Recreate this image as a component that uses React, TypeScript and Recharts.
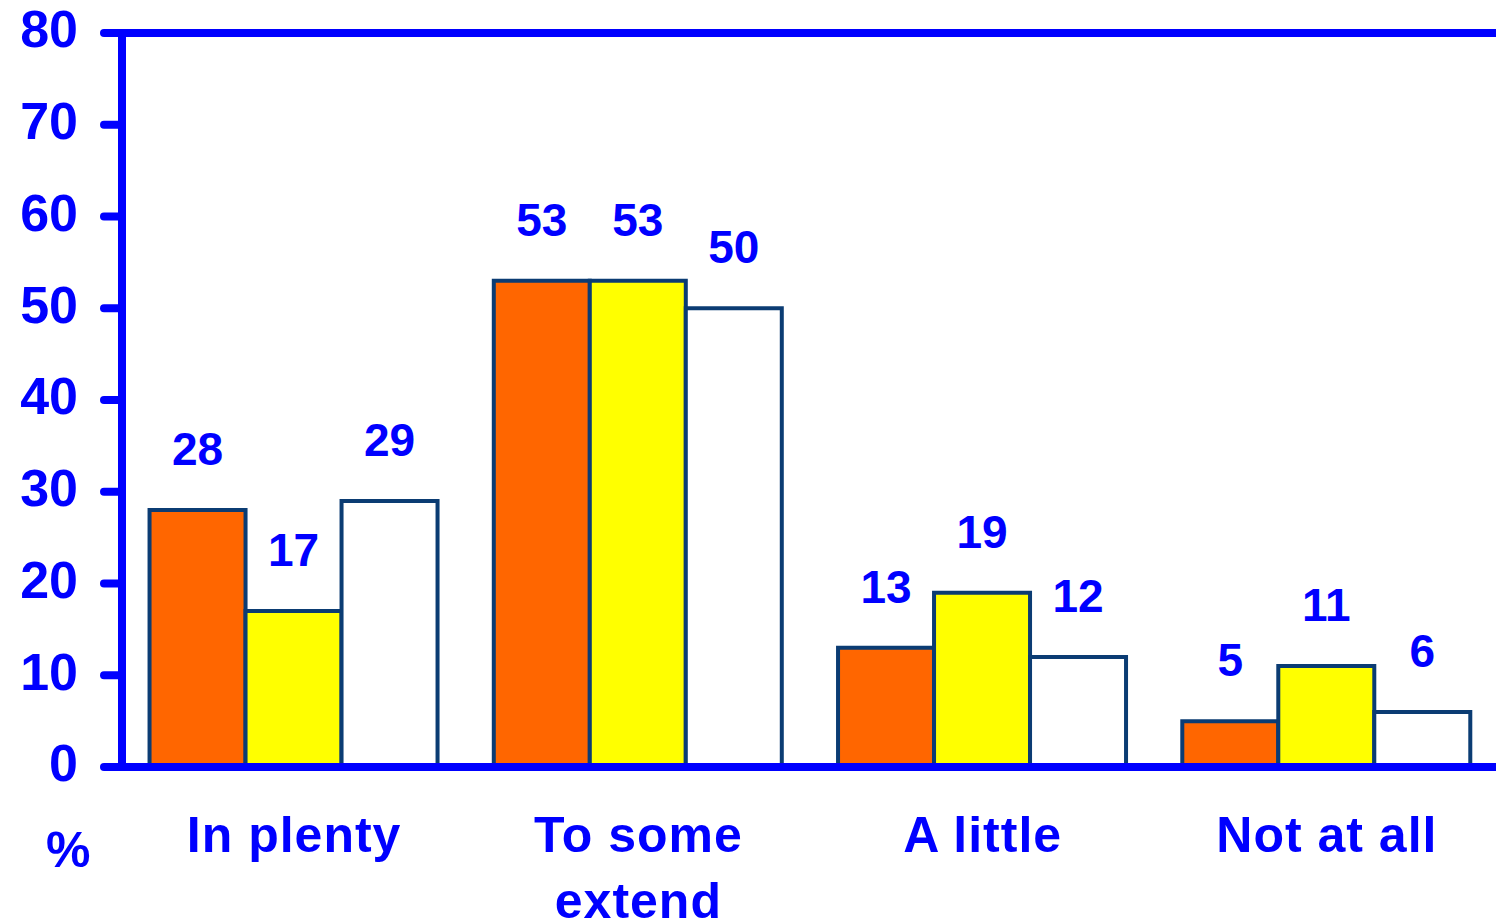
import { BarChart, Bar, XAxis, YAxis, LabelList, ReferenceLine } from "recharts"

const categories = ["In plenty", "To some extend", "A little", "Not at all"]
const orangeValues = [28, 53, 13, 5]
const yellowValues = [17, 53, 19, 11]
const whiteValues = [29, 50, 12, 6]
const yTicks = [0, 10, 20, 30, 40, 50, 60, 70, 80]

const data = categories.map((name, i) => ({
  name,
  orange: orangeValues[i],
  yellow: yellowValues[i],
  white: whiteValues[i],
}))

const BLUE = "#0000FF"
const EDGE = "#0B3C73"
const FONT = "'Liberation Sans', Arial, sans-serif"

const labelStyle = { fontSize: 46, fontWeight: "bold", fontFamily: FONT }

// crude word wrap, enough for the category names here
function wrap(label: string, maxChars = 10) {
  const lines: string[] = []
  let cur = ""
  for (const w of label.split(" ")) {
    const next = cur ? cur + " " + w : w
    if (next.length > maxChars && cur) {
      lines.push(cur)
      cur = w
    } else {
      cur = next
    }
  }
  if (cur) lines.push(cur)
  return lines
}

function CategoryTick(props: any) {
  const { x, y, payload } = props
  const lines = wrap(String(payload.value))
  return (
    <text
      x={x}
      y={y + 85}
      textAnchor="middle"
      fill={BLUE}
      style={{ fontSize: 50, fontWeight: "bold", fontFamily: FONT, letterSpacing: 1 }}
    >
      {lines.map((l, i) => (
        <tspan key={i} x={x} dy={i === 0 ? 0 : 66}>
          {l}
        </tspan>
      ))}
    </text>
  )
}

export default function App() {
  return (
    <div
      style={{
        position: "absolute",
        left: 0,
        top: 0,
        width: 1496,
        height: 921,
        overflow: "hidden",
        background: "white",
        fontFamily: FONT,
      }}
    >
      <BarChart
        width={1499}
        height={921}
        data={data}
        margin={{ top: 33, right: 0, bottom: 0, left: 0 }}
        barCategoryGap="8%"
        barGap={0}
      >
        <XAxis
          dataKey="name"
          height={154}
          tickLine={false}
          tickSize={0}
          tickMargin={0}
          interval={0}
          axisLine={{ stroke: BLUE, strokeWidth: 8, strokeLinecap: "round" }}
          tick={<CategoryTick />}
        />
        <YAxis
          width={122}
          domain={[0, 80]}
          ticks={yTicks}
          interval={0}
          tickSize={18}
          tickMargin={26}
          axisLine={{ stroke: BLUE, strokeWidth: 8 }}
          tickLine={{ stroke: BLUE, strokeWidth: 8, strokeLinecap: "round" }}
          tick={{ fill: BLUE, fontSize: 52, fontWeight: "bold", fontFamily: FONT, dy: -4 }}
        />
        <ReferenceLine y={80} stroke={BLUE} strokeWidth={8} />
        <Bar dataKey="orange" fill="#FF6600" stroke={EDGE} strokeWidth={4} isAnimationActive={false}>
          <LabelList dataKey="orange" position="top" offset={45} fill={BLUE} style={labelStyle} />
        </Bar>
        <Bar dataKey="yellow" fill="#FFFF00" stroke={EDGE} strokeWidth={4} isAnimationActive={false}>
          <LabelList dataKey="yellow" position="top" offset={45} fill={BLUE} style={labelStyle} />
        </Bar>
        <Bar dataKey="white" fill="#FFFFFF" stroke={EDGE} strokeWidth={4} isAnimationActive={false}>
          <LabelList dataKey="white" position="top" offset={45} fill={BLUE} style={labelStyle} />
        </Bar>
      </BarChart>
      <div
        style={{
          position: "absolute",
          left: 46,
          top: 825,
          fontSize: 50,
          lineHeight: "50px",
          fontWeight: "bold",
          color: BLUE,
        }}
      >
        %
      </div>
    </div>
  )
}
